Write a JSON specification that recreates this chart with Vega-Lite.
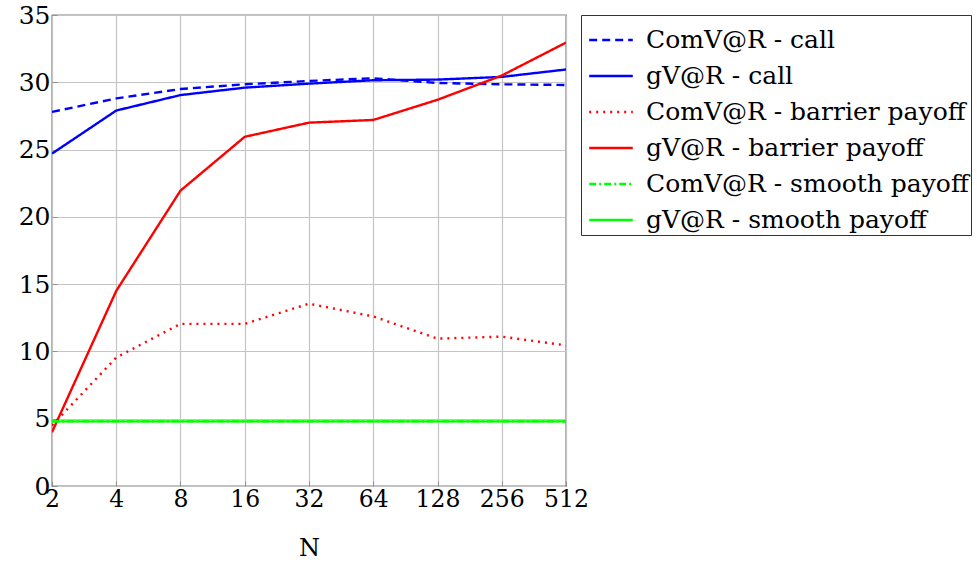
{
  "$schema": "https://vega.github.io/schema/vega-lite/v6.json",
  "autosize": "none",
  "width": 514,
  "height": 471,
  "padding": {"left": 52, "top": 15, "right": 411, "bottom": 76},
  "background": "white",
  "config": {
    "font": "DejaVu Serif",
    "view": {"stroke": "black", "strokeWidth": 1.2}
  },
  "data": {
    "values": [
      {"N": 2, "v": 27.8, "s": "ComV@R - call"},
      {"N": 4, "v": 28.8, "s": "ComV@R - call"},
      {"N": 8, "v": 29.5, "s": "ComV@R - call"},
      {"N": 16, "v": 29.85, "s": "ComV@R - call"},
      {"N": 32, "v": 30.1, "s": "ComV@R - call"},
      {"N": 64, "v": 30.3, "s": "ComV@R - call"},
      {"N": 128, "v": 29.95, "s": "ComV@R - call"},
      {"N": 256, "v": 29.85, "s": "ComV@R - call"},
      {"N": 512, "v": 29.8, "s": "ComV@R - call"},
      {"N": 2, "v": 24.7, "s": "gV@R - call"},
      {"N": 4, "v": 27.9, "s": "gV@R - call"},
      {"N": 8, "v": 29.05, "s": "gV@R - call"},
      {"N": 16, "v": 29.6, "s": "gV@R - call"},
      {"N": 32, "v": 29.9, "s": "gV@R - call"},
      {"N": 64, "v": 30.15, "s": "gV@R - call"},
      {"N": 128, "v": 30.2, "s": "gV@R - call"},
      {"N": 256, "v": 30.4, "s": "gV@R - call"},
      {"N": 512, "v": 30.95, "s": "gV@R - call"},
      {"N": 2, "v": 4.5, "s": "ComV@R - barrier payoff"},
      {"N": 4, "v": 9.55, "s": "ComV@R - barrier payoff"},
      {"N": 8, "v": 12.05, "s": "ComV@R - barrier payoff"},
      {"N": 16, "v": 12.05, "s": "ComV@R - barrier payoff"},
      {"N": 32, "v": 13.55, "s": "ComV@R - barrier payoff"},
      {"N": 64, "v": 12.6, "s": "ComV@R - barrier payoff"},
      {"N": 128, "v": 10.95, "s": "ComV@R - barrier payoff"},
      {"N": 256, "v": 11.1, "s": "ComV@R - barrier payoff"},
      {"N": 512, "v": 10.45, "s": "ComV@R - barrier payoff"},
      {"N": 2, "v": 4.0, "s": "gV@R - barrier payoff"},
      {"N": 4, "v": 14.5, "s": "gV@R - barrier payoff"},
      {"N": 8, "v": 21.95, "s": "gV@R - barrier payoff"},
      {"N": 16, "v": 25.95, "s": "gV@R - barrier payoff"},
      {"N": 32, "v": 27.0, "s": "gV@R - barrier payoff"},
      {"N": 64, "v": 27.2, "s": "gV@R - barrier payoff"},
      {"N": 128, "v": 28.7, "s": "gV@R - barrier payoff"},
      {"N": 256, "v": 30.5, "s": "gV@R - barrier payoff"},
      {"N": 512, "v": 32.95, "s": "gV@R - barrier payoff"},
      {"N": 2, "v": 4.8, "s": "ComV@R - smooth payoff"},
      {"N": 4, "v": 4.8, "s": "ComV@R - smooth payoff"},
      {"N": 8, "v": 4.8, "s": "ComV@R - smooth payoff"},
      {"N": 16, "v": 4.8, "s": "ComV@R - smooth payoff"},
      {"N": 32, "v": 4.8, "s": "ComV@R - smooth payoff"},
      {"N": 64, "v": 4.8, "s": "ComV@R - smooth payoff"},
      {"N": 128, "v": 4.8, "s": "ComV@R - smooth payoff"},
      {"N": 256, "v": 4.8, "s": "ComV@R - smooth payoff"},
      {"N": 512, "v": 4.8, "s": "ComV@R - smooth payoff"},
      {"N": 2, "v": 4.8, "s": "gV@R - smooth payoff"},
      {"N": 4, "v": 4.8, "s": "gV@R - smooth payoff"},
      {"N": 8, "v": 4.8, "s": "gV@R - smooth payoff"},
      {"N": 16, "v": 4.8, "s": "gV@R - smooth payoff"},
      {"N": 32, "v": 4.8, "s": "gV@R - smooth payoff"},
      {"N": 64, "v": 4.8, "s": "gV@R - smooth payoff"},
      {"N": 128, "v": 4.8, "s": "gV@R - smooth payoff"},
      {"N": 256, "v": 4.8, "s": "gV@R - smooth payoff"},
      {"N": 512, "v": 4.8, "s": "gV@R - smooth payoff"}
    ]
  },
  "mark": {"type": "line", "strokeWidth": 2.4, "clip": true},
  "encoding": {
    "x": {
      "field": "N", "type": "quantitative",
      "scale": {"type": "log", "base": 2, "domain": [2, 512], "nice": false},
      "axis": {
        "title": "N", "values": [2, 4, 8, 16, 32, 64, 128, 256, 512], "format": "d",
        "labelFont": "DejaVu Serif", "titleFont": "DejaVu Serif",
        "labelFontSize": 23.5, "titleFontSize": 24, "titleFontWeight": "normal",
        "labelColor": "black", "titleColor": "black",
        "labelPadding": 6, "titlePadding": 26,
        "grid": true, "gridColor": "#c4c4c4", "gridWidth": 1.2,
        "domain": false, "ticks": true, "tickSize": -5, "tickColor": "#909090",
        "labelFlush": false, "labelOverlap": false
      }
    },
    "y": {
      "field": "v", "type": "quantitative",
      "scale": {"domain": [0, 35], "nice": false},
      "axis": {
        "title": null, "values": [0, 5, 10, 15, 20, 25, 30, 35],
        "labelFont": "DejaVu Serif",
        "labelFontSize": 25, "labelColor": "black", "labelPadding": 7,
        "grid": true, "gridColor": "#c4c4c4", "gridWidth": 1.2,
        "domain": false, "ticks": true, "tickSize": -5, "tickColor": "#909090",
        "labelFlush": false, "labelOverlap": false
      }
    },
    "color": {
      "field": "s", "type": "nominal",
      "sort": ["ComV@R - call", "gV@R - call", "ComV@R - barrier payoff", "gV@R - barrier payoff", "ComV@R - smooth payoff", "gV@R - smooth payoff"],
      "scale": {
        "domain": ["ComV@R - call", "gV@R - call", "ComV@R - barrier payoff", "gV@R - barrier payoff", "ComV@R - smooth payoff", "gV@R - smooth payoff"],
        "range": ["#0000ff", "#0000ff", "#ff0000", "#ff0000", "#00ff00", "#00ff00"]
      },
      "legend": {
        "title": null, "orient": "none", "legendX": 529, "legendY": 0,
        "strokeColor": "#333333", "fillColor": "white", "padding": 2,
        "labelFont": "DejaVu Serif",
        "labelFontSize": 25, "labelColor": "black", "labelLimit": 400,
        "symbolType": "stroke", "symbolSize": 1900, "symbolStrokeWidth": 2.4,
        "rowPadding": -8.5, "labelOffset": 12, "symbolOffset": 5
      }
    },
    "strokeDash": {
      "field": "s", "type": "nominal",
      "sort": ["ComV@R - call", "gV@R - call", "ComV@R - barrier payoff", "gV@R - barrier payoff", "ComV@R - smooth payoff", "gV@R - smooth payoff"],
      "scale": {
        "domain": ["ComV@R - call", "gV@R - call", "ComV@R - barrier payoff", "gV@R - barrier payoff", "ComV@R - smooth payoff", "gV@R - smooth payoff"],
        "range": [[8, 5], [1, 0], [2, 5], [1, 0], [7, 3, 2, 3], [1, 0]]
      }
    },
    "order": {"field": "N", "type": "quantitative"}
  }
}
